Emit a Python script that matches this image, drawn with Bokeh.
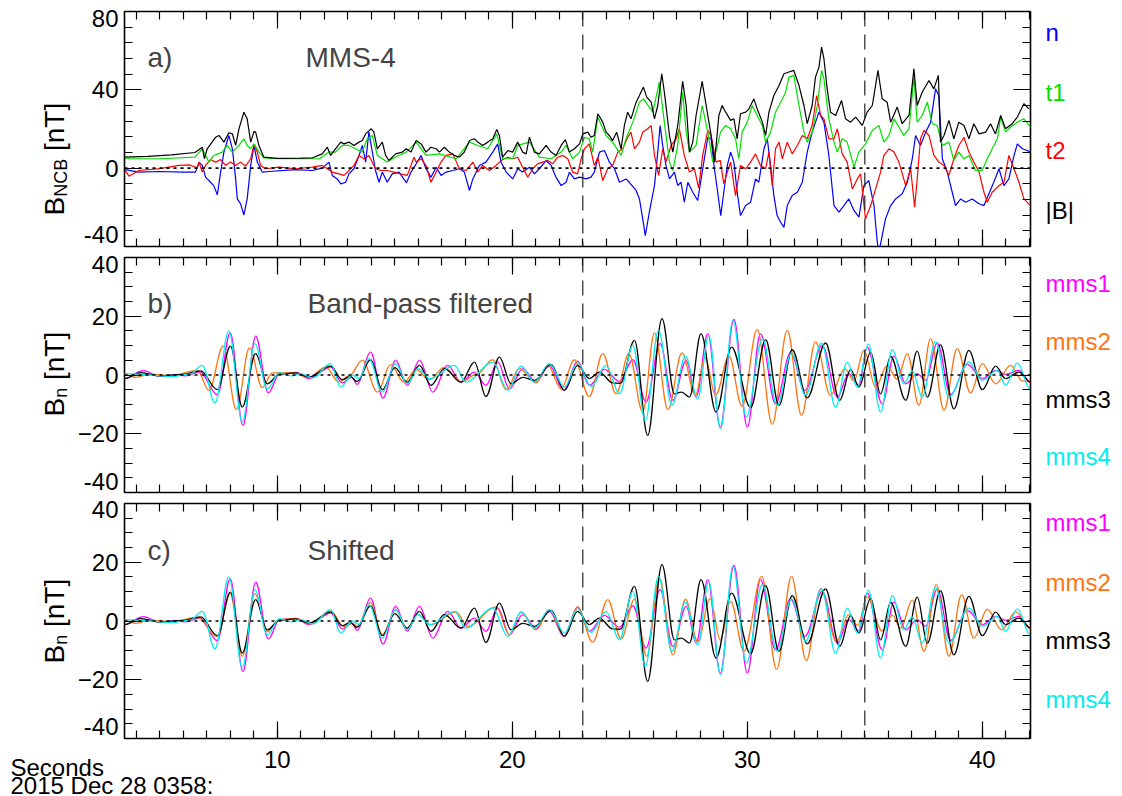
import numpy as np
from bokeh.plotting import figure
from bokeh.layouts import column
from bokeh.models import (Range1d, FixedTicker, LinearAxis, Span, Label,
                          ColumnDataSource, GridBox)
from bokeh.embed import file_html
from bokeh.resources import INLINE

FONT = "Liberation Sans"

# ---------------- Panel a: MMS-4 field in NCB coordinates (nT) ----------------
t_n = [3.52, 4.11, 5.0, 6.0, 6.52, 6.67, 6.81, 6.95, 7.16, 7.30, 7.45, 7.59, 7.73, 7.94, 8.09, 8.23, 8.30, 8.44,
       8.58, 8.72, 8.87, 9.01, 9.15, 9.36, 9.65, 10.78, 11.49, 11.91, 12.20, 12.34, 12.55, 12.70, 12.91, 13.05,
       13.26, 13.48, 13.62, 13.76, 13.90, 14.18, 14.33, 14.47, 14.68, 14.89, 15.18, 15.50, 15.69, 15.91, 16.12,
       16.33, 16.54, 16.76, 16.97, 17.18, 17.47, 17.75, 17.96, 18.18, 18.32, 18.60, 18.88, 19.17, 19.38, 19.52,
       19.74, 20.02, 20.23, 20.44, 20.73, 20.94, 21.15, 21.44, 21.65, 21.86, 22.08, 22.29, 22.43, 22.64, 22.86,
       23.14, 23.35, 23.49, 23.71, 23.92, 24.13, 24.35, 24.56, 24.84, 24.98, 25.27, 25.41, 25.55, 25.66, 25.83,
       26.05, 26.19, 26.29, 26.40, 26.54, 26.69, 26.90, 27.04, 27.18, 27.32, 27.47, 27.68, 27.89, 28.08, 28.32,
       28.46, 28.60, 28.74, 28.87, 29.0, 29.15, 29.29, 29.43, 29.57, 29.71, 29.93, 30.14, 30.35, 30.49, 30.71,
       30.85, 30.99, 31.13, 31.27, 31.42, 31.56, 31.70, 31.91, 32.13, 32.34, 32.55, 32.76, 33.05, 33.26, 33.47,
       33.69, 33.90, 34.11, 34.32, 34.54, 34.75, 34.96, 35.17, 35.39, 35.53, 35.60, 35.74, 35.88, 36.10, 36.31,
       36.59, 36.81, 37.02, 37.16, 37.37, 37.59, 37.80, 38.01, 38.15, 38.30, 38.51, 38.72, 38.86, 39.08, 39.29,
       39.57, 39.86, 40.07, 40.28, 40.49, 40.71, 40.92, 41.13, 41.35, 41.49, 41.70, 41.91, 42.05]
B_n = [-0.7, -2.0, -1.7, -2.0, -2.0, 3.1, 1.4, -4.6, -7.2, -8.9, -13.6, -2.0, 8.2, 16.7, 9.9, -5.5, -15.7, -18.2,
       -23.9, -15.7, 1.4, 11.6, 3.1, -2.0, -1.7, -0.7, -1.2, 0.0, 3.1, -3.7, -5.5, -8.0, -7.2, -2.9,
       -0.3, 6.5, 11.6, 3.1, 18.4, -1.2, -7.2, -2.0, -7.2, -2.9, -2.0, -7.5, -2.0, 2.2, 6.5,
       -0.3, -4.6, 0.5, -3.7, -2.0, -1.2, -0.3, -2.0, -11.4, -5.5, 1.4, 3.1, 8.2, 12.4, 3.1,
       -2.0, -5.5, -0.3, -2.0, 0.5, -2.9, -0.3, 3.9, 1.4, -4.6, -8.9, -7.2, -2.0, -5.5, -4.6,
       -5.5, -4.6, -2.0, 8.2, 9.0, 3.1, -0.3, -7.2, -5.5, -7.2, -11.4, -15.7, -25.9, -34.4, -22.5,
       -8.9, 8.2, 21.8, 11.6, 1.4, -5.5, -2.0, -8.9, -7.2, -17.4, -7.2, -12.3, -16.5, -2.0, 15.8,
       15.0, -0.3, -12.3, -24.2, -12.3, 1.4, 8.2, 3.1, -12.3, -24.2, -19.1, -17.4, -5.5, -7.2, 9.9,
       15.0, 1.4, -14.0, -24.2, -27.6, -30.2, -19.1, -14.0, -12.3, -7.2, 8.2, 18.4, 28.6, 23.5, 6.5,
       -19.1, -22.5, -19.1, -15.7, -21.6, -25.0, -8.9, -6.3, -19.1, -37.8, -43.0, -34.4, -25.9, -19.1, -15.7,
       -13.1, -7.2, 4.8, 16.7, 11.6, 18.4, 23.5, 40.5, 37.1, 4.8, -2.0, -12.3, -19.1, -15.7, -17.4,
       -15.7, -18.2, -19.1, -13.1, -7.2, -0.3, -8.9, -5.5, 6.5, 12.4, 9.9, 9.0, 8.2]

t_t1 = [3.52, 5.0, 6.5, 6.81, 7.09, 7.30, 7.66, 7.87, 8.09, 8.37, 8.58, 8.72, 8.87, 9.01, 9.22, 9.43, 10.0, 11.0,
        11.8, 12.20, 12.48, 12.77, 13.05, 13.33, 13.62, 13.83, 14.04, 14.26, 14.47, 14.68, 14.89, 15.18, 15.48,
        15.91, 16.33, 16.90, 17.61, 18.18, 18.53, 18.96, 19.34, 19.59, 20.02, 20.23, 20.73, 21.15, 21.65, 22.08,
        22.29, 22.57, 22.86, 23.07, 23.28, 23.42, 23.64, 23.99, 24.27, 24.63, 24.84, 25.13, 25.41, 25.58, 25.98,
        26.26, 26.47, 26.69, 26.83, 27.04, 27.25, 27.40, 27.54, 27.82, 28.08, 28.32, 28.53, 28.70, 28.86, 29.08,
        29.29, 29.50, 29.64, 29.78, 30.0, 30.21, 30.42, 30.64, 30.78, 30.99, 31.20, 31.42, 31.63, 31.77, 31.98,
        32.20, 32.41, 32.55, 32.76, 32.98, 33.16, 33.26, 33.47, 33.69, 33.83, 34.04, 34.25, 34.54, 34.75, 35.03,
        35.32, 35.60, 35.81, 36.03, 36.24, 36.45, 36.66, 36.88, 37.09, 37.23, 37.44, 37.66, 37.87, 38.08, 38.30,
        38.58, 38.79, 39.0, 39.22, 39.43, 39.71, 39.99, 40.21, 40.42, 40.64, 40.78, 40.99, 41.20, 41.49, 41.77,
        42.05]
B_t1 = [4.8, 4.8, 5.6, 9.9, 3.1, 6.5, 8.2, 11.6, 8.2, 11.6, 15.0, 11.6, 9.9, 12.4, 8.2, 5.3, 4.8, 4.8,
        4.8, 8.2, 8.2, 11.6, 11.6, 9.9, 8.2, 15.0, 16.7, 6.5, 4.8, 3.1, 4.8, 6.5, 8.2,
        13.3, 6.5, 7.3, 4.8, 13.3, 11.6, 9.9, 17.5, 4.8, 4.8, 11.6, 13.3, 5.6, 4.8, 8.2,
        11.6, 4.8, 8.2, 15.8, 15.0, 8.2, 26.1, 16.7, 13.3, 6.5, 15.0, 23.5, 33.7, 35.4, 28.6,
        44.0, 23.5, 3.1, -1.2, 11.6, 38.8, 18.4, 8.2, 11.6, 32.0, 18.4, 3.1, 10.0, 18.4, 21.8,
        20.1, 15.0, 4.8, 18.4, 23.5, 32.0, 26.9, 21.8, 13.3, 18.4, 28.6, 33.7, 38.8, 46.5, 47.4,
        32.0, 18.4, 13.3, 18.4, 32.0, 49.9, 45.7, 25.2, 13.3, 8.2, 15.0, 13.3, 0.5, 8.2, 12.4,
        19.3, 21.8, 13.3, 16.7, 25.2, 21.0, 16.7, 20.1, 46.5, 23.5, 26.9, 33.7, 22.7, 21.8, 11.6,
        13.3, 3.9, 8.2, 4.8, 6.5, -1.2, -1.2, 4.8, 9.9, 15.0, 26.1, 18.4, 21.0, 23.5, 25.2,
        21.0]

t_t2 = [3.52, 3.69, 4.11, 5.0, 5.82, 6.25, 6.6, 6.67, 6.81, 6.95, 7.16, 7.38, 7.59, 7.80, 8.01, 8.23, 8.44, 8.65,
        8.87, 9.01, 9.15, 9.29, 9.5, 10.07, 10.78, 11.49, 11.91, 12.13, 12.34, 12.62, 12.84, 13.05, 13.26, 13.48,
        13.69, 13.90, 14.18, 14.40, 14.68, 14.96, 15.25, 15.53, 15.82, 15.91, 16.12, 16.33, 16.54, 16.76, 16.97,
        17.18, 17.47, 17.75, 18.03, 18.32, 18.53, 18.74, 19.03, 19.31, 19.59, 19.81, 20.02, 20.23, 20.44, 20.66,
        20.87, 21.08, 21.30, 21.51, 21.72, 21.93, 22.15, 22.36, 22.57, 22.78, 22.93, 23.07, 23.28, 23.49, 23.64,
        23.85, 24.06, 24.27, 24.49, 24.70, 24.91, 25.05, 25.20, 25.41, 25.55, 25.76, 25.91, 26.05, 26.23, 26.40,
        26.54, 26.76, 26.97, 27.11, 27.32, 27.54, 27.75, 27.93, 28.10, 28.32, 28.46, 28.67, 28.85, 29.0, 29.15,
        29.29, 29.50, 29.71, 29.93, 30.14, 30.35, 30.56, 30.78, 30.92, 31.06, 31.20, 31.35, 31.49, 31.70, 31.91,
        32.13, 32.34, 32.55, 32.76, 32.95, 33.12, 33.26, 33.47, 33.69, 33.83, 34.04, 34.25, 34.47, 34.68, 34.82,
        35.03, 35.25, 35.46, 35.67, 35.81, 36.03, 36.24, 36.45, 36.74, 36.95, 37.12, 37.23, 37.37, 37.52, 37.73,
        37.94, 38.15, 38.37, 38.58, 38.79, 39.0, 39.22, 39.43, 39.64, 39.86, 40.07, 40.21, 40.42, 40.71, 40.92,
        41.13, 41.35, 41.56, 41.77, 42.05]
B_t2 = [-1.0, -4.1, -1.2, -0.2, 1.4, 1.7, 0.2, 3.1, -2.0, 1.4, 4.4, 3.1, 4.4, 1.4, 3.1, 1.4, 3.1, 1.0,
        4.8, 11.9, 8.2, 1.4, -0.3, 0.5, -0.3, 0.5, 1.4, -0.3, -2.0, -2.9, -3.7, -1.2, 1.4, 6.5,
        4.8, 6.5, -0.3, -1.2, -1.2, -2.0, -2.9, -3.7, 5.6, 3.1, 4.8, 1.4, -7.2, -2.0, 3.1,
        6.5, 7.3, -0.3, -1.2, 3.1, -2.0, 1.4, -1.2, 1.4, 4.4, 5.6, 4.8, 5.6, 0.5, -4.6,
        -0.3, 2.2, 3.1, 3.9, 2.2, 5.6, 6.5, 4.8, -2.0, -2.9, 4.8, 9.9, 12.4, 1.4, 5.6,
        -6.3, -0.3, 1.4, 8.2, 9.9, 15.8, 18.4, 9.9, 13.3, 18.4, 20.1, 21.8, 6.5, -3.7, 9.9,
        3.1, 11.6, 15.0, 20.1, 6.5, -2.0, -0.3, -10.2, 6.5, 19.3, 16.7, 3.1, 4.0, -8.0, -2.0,
        3.1, -14.0, 1.4, -0.3, 3.1, 7.3, 1.4, -0.3, 8.2, -8.9, 9.9, 13.3, 4.8, 13.3, 7.3,
        11.6, 16.7, 15.0, 21.8, 37.1, 26.9, 25.2, 15.0, 15.0, 20.1, 7.3, 3.1, -10.6, -5.5, -2.9,
        -25.9, -19.1, -10.6, -2.0, 6.5, 9.9, 8.2, 3.1, -8.9, -0.3, -19.9, -5.5, 15.0, 19.3, 16.7,
        6.5, 3.1, 1.4, -3.7, 4.8, 11.6, 15.8, 8.2, 3.1, -2.0, -12.3, -17.4, -12.3, -8.9, -7.2,
        6.5, -0.3, -7.2, -15.7, -19.1]

t_B = [3.52, 4.5, 5.5, 6.5, 6.81, 6.9, 7.02, 7.38, 7.52, 7.73, 7.94, 8.09, 8.23, 8.37, 8.58, 8.72, 8.87, 9.01,
       9.08, 9.22, 9.43, 10.0, 11.0, 11.5, 11.91, 12.13, 12.27, 12.48, 12.70, 12.84, 13.05, 13.26, 13.48, 13.62,
       13.76, 14.0, 14.11, 14.26, 14.47, 14.61, 14.75, 15.04, 15.32, 15.48, 15.69, 15.91, 16.12, 16.33, 16.54,
       16.76, 16.90, 17.11, 17.32, 17.54, 17.75, 17.96, 18.18, 18.39, 18.53, 18.74, 18.96, 19.17, 19.34, 19.45,
       19.59, 19.81, 20.02, 20.23, 20.44, 20.59, 20.73, 20.94, 21.15, 21.44, 21.65, 21.86, 22.08, 22.26, 22.43,
       22.64, 22.86, 23.0, 23.21, 23.35, 23.49, 23.64, 23.85, 23.99, 24.13, 24.27, 24.44, 24.63, 24.77, 24.91,
       25.05, 25.27, 25.41, 25.58, 25.72, 25.91, 26.05, 26.19, 26.36, 26.47, 26.69, 26.83, 27.04, 27.25, 27.40,
       27.54, 27.68, 27.82, 28.08, 28.25, 28.46, 28.60, 28.70, 28.79, 28.93, 29.08, 29.29, 29.43, 29.57, 29.71,
       29.93, 30.07, 30.28, 30.42, 30.64, 30.78, 30.92, 31.13, 31.35, 31.56, 31.77, 31.98, 32.20, 32.41, 32.55,
       32.76, 32.90, 33.05, 33.16, 33.26, 33.40, 33.54, 33.76, 34.01, 34.18, 34.39, 34.61, 34.89, 35.10, 35.32,
       35.56, 35.74, 35.95, 36.10, 36.38, 36.59, 36.88, 37.09, 37.23, 37.44, 37.73, 37.94, 38.13, 38.22, 38.37,
       38.58, 38.79, 39.0, 39.22, 39.43, 39.64, 39.86, 40.14, 40.35, 40.56, 40.78, 40.99, 41.27, 41.49, 41.77,
       41.98]
B_tot = [5.6, 6.0, 6.8, 8.0, 10.7, 4.8, 9.9, 15.8, 16.7, 13.3, 18.1, 17.5, 11.6, 20.1, 28.6, 25.2, 13.3, 18.8,
         18.4, 11.6, 5.6, 5.0, 5.1, 5.3, 7.3, 10.7, 6.5, 9.9, 13.3, 12.4, 13.3, 11.6, 13.3, 14.1,
         17.5, 20.1, 18.4, 9.9, 13.3, 6.5, 3.9, 7.3, 8.2, 9.9, 8.2, 14.1, 12.4, 8.2, 10.7,
         9.9, 8.2, 10.7, 8.2, 6.5, 5.6, 8.2, 14.1, 15.0, 13.3, 11.6, 13.3, 15.0, 19.8, 16.7,
         5.6, 9.0, 8.2, 13.3, 8.2, 7.3, 15.8, 8.2, 7.3, 11.6, 8.2, 6.5, 11.6, 14.6, 8.2,
         9.9, 12.4, 17.5, 18.4, 15.8, 16.7, 27.8, 23.5, 18.4, 16.7, 14.1, 18.4, 9.9, 21.8, 28.6,
         25.2, 33.7, 37.1, 41.4, 36.3, 33.7, 25.2, 32.0, 48.2, 38.8, 16.7, 8.2, 21.8, 44.3, 32.0,
         8.2, 13.3, 26.9, 44.3, 32.0, 16.7, 3.0, 15.0, 26.9, 32.0, 28.6, 24.4, 25.2, 15.0, 27.8,
         28.6, 30.3, 35.4, 30.3, 23.5, 16.7, 28.6, 37.1, 42.2, 48.2, 49.1, 49.9, 42.2, 32.0, 22.7,
         32.0, 46.5, 51.6, 61.8, 55.9, 40.5, 28.6, 26.9, 34.6, 25.2, 23.5, 26.1, 21.8, 28.6, 32.0,
         49.9, 35.4, 33.7, 23.5, 31.2, 22.7, 26.9, 50.8, 32.0, 38.8, 44.8, 40.5, 47.4, 13.3, 16.7,
         24.4, 15.0, 23.5, 21.8, 15.0, 22.7, 17.5, 18.4, 22.7, 17.5, 26.9, 20.1, 22.7, 26.1, 32.9,
         30.3]

# ---------------- Panels b/c: band-pass filtered Bn, turning points (nT) ----------------
t_mms1 = [3.5, 4.3, 5.0, 5.6, 6.1, 6.7, 7.45, 8.0, 8.54, 9.08, 9.62, 10.1, 10.8, 11.35, 12.27, 12.77, 13.16,
          13.4, 13.97, 14.5, 15.04, 15.53, 16.05, 16.62, 17.25, 17.82, 18.39, 18.88, 19.38, 19.88, 20.44, 21.01,
          21.58, 22.19, 22.78, 23.28, 23.92, 24.56, 25.13, 25.69, 26.29, 26.83, 27.4, 27.82, 28.32, 28.85, 29.43,
          30.0, 30.56, 31.2, 31.84, 32.45, 33.19, 33.83, 34.32, 34.75, 35.1, 35.74, 36.24, 36.74, 37.23, 37.59,
          38.08, 38.65, 39.36, 40.0, 40.57, 40.99, 41.56, 42.05]
bn_mms1 = [-1.2, 1.5, -0.5, 0.0, -0.3, 1.1, -6.7, 14.3, -17.2, 13.2, -6.1, 0.5, 0.9, -1.2, 2.7, -2.7, -0.7,
           -3.2, 7.8, -7.8, 5.0, -3.5, 5.0, -5.8, 3.3, -2.4, 1.0, -3.5, 4.4, -4.7, 2.2, -2.4,
           3.3, -5.2, 4.7, -3.5, 1.9, -2.2, 5.2, -9.2, 10.7, -8.6, 5.0, -7.5, 14.1, -17.7, 18.9,
           -17.7, 14.1, -9.8, 7.5, -5.2, 10.1, -7.5, 0.5, -3.5, 9.5, -9.8, 6.4, -3.0, 0.5, -1.8,
           10.9, -6.6, 3.6, -1.2, 1.6, 0.2, 1.6, -2.4]

t_mms2 = [3.5, 4.0, 4.6, 5.5, 6.6, 7.09, 7.70, 8.26, 8.82, 9.36, 9.79, 10.7, 11.3, 12.06, 12.62, 13.05, 13.62,
          14.26, 14.82, 15.39, 15.91, 16.47, 17.11, 17.82, 18.5, 19.17, 19.74, 20.3, 21.01, 21.51, 22.08, 22.64,
          23.28, 23.85, 24.42, 24.96, 25.55, 26.05, 26.62, 27.22, 27.79, 28.2, 28.65, 29.22, 29.78, 30.42, 31.06,
          31.7, 32.31, 32.9, 33.54, 34.15, 34.54, 34.96, 35.46, 35.95, 36.38, 36.81, 37.3, 37.8, 38.37, 38.93,
          39.5, 40.0, 40.57, 41.2, 41.7, 42.05]
bn_mms2 = [0.2, -0.8, 0.3, -0.2, 1.6, -5.2, 9.8, -11.8, 9.3, -4.3, 0.7, 0.8, -1.0, 2.7, -2.4, -0.3, 5.0,
           -5.8, 3.5, -2.4, 1.8, -1.6, 2.7, -2.4, 0.3, 5.2, -5.0, 2.2, -2.7, 3.3, -4.7, 5.2,
           -7.3, 7.3, -6.4, 7.3, -12.6, 14.3, -11.8, 7.5, -6.9, 6.0, -6.9, 6.4, -10.7, 15.5, -16.8,
           15.2, -13.8, 11.3, -6.9, 2.2, -2.0, 8.4, -4.1, 3.3, -1.5, 7.3, -10.3, 12.4, -12.0, 9.0,
           -6.1, 3.9, -3.0, 3.3, -2.0, -2.4]

t_mms3 = [3.5, 4.2, 5.0, 6.0, 6.74, 7.45, 8.01, 8.51, 9.08, 9.57, 10.1, 10.78, 11.35, 12.27, 12.77, 13.1, 13.4,
          13.97, 14.47, 15.0, 15.53, 16.05, 16.54, 17.11, 17.82, 18.39, 18.88, 19.45, 19.95, 20.45, 20.95, 21.65,
          22.22, 22.78, 23.28, 23.71, 24.27, 24.6, 25.2, 25.76, 26.37, 26.9, 27.2, 27.54, 28.03, 28.67, 29.33,
          30.14, 30.78, 31.35, 31.91, 32.55, 33.33, 33.93, 34.4, 34.75, 35.25, 35.67, 36.1, 36.74, 37.23, 37.66,
          38.22, 38.79, 39.43, 40.0, 40.57, 40.99, 41.56, 42.05]
bn_mms3 = [-1.2, 0.8, -0.3, 0.2, 1.4, -5.0, 9.8, -10.9, 7.3, -3.0, 0.3, 0.7, -0.7, 3.0, -1.6, -0.5, -2.2,
           5.2, -5.0, 2.5, -2.4, 3.3, -3.5, 2.2, -2.4, 4.4, -7.3, 6.1, -3.0, -0.8, -1.8, 3.6,
           -5.2, 3.3, -1.2, 1.0, -2.7, -2.8, 11.8, -20.6, 19.2, -6.4, -5.8, -7.5, 14.1, -12.6, 9.5,
           -11.1, 12.0, -10.3, 8.6, -7.8, 10.9, -8.6, 1.8, -4.1, 7.7, -6.4, 6.3, -8.6, 8.1, -7.5,
           10.3, -11.5, 8.4, -5.0, 3.0, -1.2, 1.0, -2.4]

t_mms4 = [3.5, 4.5, 5.5, 6.3, 6.81, 7.35, 7.94, 8.51, 9.05, 9.57, 10.1, 10.6, 11.0, 11.5, 12.27, 12.70, 13.19,
          13.48, 13.9, 14.47, 15.04, 15.53, 15.98, 16.5, 17.54, 18.03, 19.17, 19.81, 20.37, 20.94, 21.58, 22.22,
          22.78, 23.35, 23.99, 24.56, 25.13, 25.66, 26.22, 26.79, 27.37, 27.89, 28.36, 28.86, 29.39, 29.96, 30.64,
          31.27, 31.88, 32.48, 33.16, 33.76, 34.25, 34.68, 35.15, 35.67, 36.17, 36.66, 37.02, 37.44, 38.01, 38.58,
          39.43, 40.0, 40.64, 40.99, 41.49, 42.05]
bn_mms4 = [0.5, 0.0, -0.5, 0.3, 3.3, -9.5, 15.0, -16.0, 10.7, -4.7, 0.8, -0.3, 0.5, -1.0, 3.9, -4.1, 0.0,
           -1.2, 5.6, -5.8, 3.9, -3.0, 2.2, -1.2, 3.3, -2.4, 4.4, -5.2, 3.0, -2.4, 3.9, -4.1,
           4.1, -3.9, 3.3, -6.4, 10.1, -15.5, 15.2, -10.3, 6.4, -8.1, 13.5, -18.3, 18.6, -14.3, 12.4,
           -10.3, 7.5, -6.9, 10.9, -10.9, 4.4, -4.1, 10.5, -12.6, 8.6, -3.0, 1.4, -7.5, 11.3, -7.5,
           4.4, -1.8, 1.6, -3.5, 4.1, -5.0]

# mms2 after time shift (panel c); mms1, mms3, mms4 coincide with panel b
t_mms2_shift = [3.5, 4.0, 4.6, 5.5, 6.6, 7.45, 7.99, 8.51, 9.05, 9.57, 10.1, 10.8, 11.4, 12.27, 12.84, 13.2, 13.4,
                13.97, 14.47, 15.04, 15.53, 15.98, 16.54, 17.61, 18.1, 19.31, 19.88, 20.37, 21.01, 21.58, 22.22,
                22.78, 23.42, 24.06, 24.63, 25.2, 25.72, 26.26, 26.83, 27.37, 27.89, 28.42, 28.85, 29.29, 29.86,
                30.61, 31.25, 31.88, 32.51, 33.12, 33.79, 34.32, 34.7, 35.1, 35.74, 36.17, 36.52, 37.02, 37.52,
                38.04, 38.58, 39.12, 39.64, 40.21, 40.82, 41.42, 42.05]
bn_mms2_shift = [0.2, -0.8, 0.3, -0.2, 1.2, -5.3, 9.3, -12.0, 9.3, -3.6, 0.5, 0.9, -1.0, 3.4, -1.9, -0.8, -1.8,
                 6.3, -4.7, 3.7, -2.5, 2.2, -1.3, 3.1, -1.9, 4.8, -4.7, 3.1, -3.0, 3.7, -5.2,
                 4.8, -7.2, 7.3, -6.1, 7.4, -12.0, 14.6, -11.5, 7.4, -7.0, 7.6, -6.5, 6.7, -10.3,
                 15.2, -16.5, 15.2, -13.5, 11.0, -7.0, 2.2, -1.5, 8.2, -3.4, 2.0, -2.5, 7.1, -10.3,
                 12.4, -12.0, 9.0, -5.8, 4.0, -3.0, 3.1, -2.5]

x_major_ticks = [10, 20, 30, 40]
event_times = [23, 35]

C_N, C_T1, C_T2, C_B = "#0000ff", "#00e000", "#ff0000", "#000000"
C_M1, C_M2, C_M3, C_M4 = "#ff00ff", "#ff7410", "#000000", "#00eeee"

LEFT, RIGHT, FW, FH = 124, 92, 906, 235
TOTAL_W, TOTAL_H = 1122, 796


def style_axis(ax, ticker, labels):
    ax.ticker = ticker
    ax.axis_line_color = None
    ax.major_tick_in, ax.major_tick_out = 17, 0
    ax.minor_tick_in, ax.minor_tick_out = 8, 0
    ax.major_tick_line_color = "black"
    ax.minor_tick_line_color = "black"
    ax.major_tick_line_width = 1.2
    ax.minor_tick_line_width = 1.2
    ax.major_label_text_font = FONT
    if labels:
        ax.major_label_text_font_size = "24px"
        ax.major_label_text_color = "black"
    else:
        ax.major_label_text_font_size = "1px"
        ax.major_label_text_color = None
        ax.major_label_standoff = 0


def make_panel(yr, ymaj, ymin, top, bottom, xlabels):
    p = figure(frame_width=FW, frame_height=FH, x_range=Range1d(3.5, 42.05), y_range=Range1d(*yr),
               output_backend="svg", toolbar_location=None, min_border_left=LEFT, min_border_right=RIGHT,
               min_border_top=top, min_border_bottom=bottom, background_fill_color="white",
               border_fill_color="white", outline_line_color="black", outline_line_width=1.6)
    p.grid.visible = False
    style_axis(p.xaxis[0], FixedTicker(ticks=x_major_ticks, minor_ticks=list(range(4, 43))), xlabels)
    if xlabels:
        p.xaxis[0].major_label_standoff = 12
    # inner tick values labelled by the axis; the end values are placed in the overlay
    style_axis(p.yaxis[0], FixedTicker(ticks=ymaj[1:-1], minor_ticks=ymin), True)
    p.yaxis[0].major_label_standoff = 6
    ax_top = LinearAxis()
    style_axis(ax_top, FixedTicker(ticks=x_major_ticks, minor_ticks=list(range(4, 43))), False)
    p.add_layout(ax_top, "above")
    ax_r = LinearAxis()
    style_axis(ax_r, FixedTicker(ticks=ymaj, minor_ticks=ymin), False)
    p.add_layout(ax_r, "right")
    p.add_layout(Span(location=0, dimension="width", line_color="black", line_dash="3 4", line_width=1.6))
    for et in event_times:
        p.add_layout(Span(location=et, dimension="height", line_color="#222222", line_dash="15 8",
                          line_width=1.2))
    return p


def smooth(p, t, v, color):
    t = np.asarray(t, float)
    v = np.asarray(v, float)
    d = np.diff(t)
    src = ColumnDataSource(dict(x0=t[:-1], y0=v[:-1], x1=t[1:], y1=v[1:],
                                cx0=t[:-1] + 0.36 * d, cy0=v[:-1], cx1=t[1:] - 0.36 * d, cy1=v[1:]))
    p.bezier(x0="x0", y0="y0", x1="x1", y1="y1", cx0="cx0", cy0="cy0", cx1="cx1", cy1="cy1",
             source=src, line_color=color, line_width=1.3)


def inframe(p, s, x, y, size):
    p.add_layout(Label(x=x, y=y, x_units="screen", y_units="screen", text=s, text_font=FONT,
                       text_font_size=size, text_baseline="alphabetic", text_align="left"))


# ---------------- panel a ----------------
pa = make_panel((-40, 80), [-40, 0, 40, 80], list(range(-40, 81, 8)), 11, 5, False)
pa.line(t_n, B_n, line_color=C_N, line_width=1.2)
pa.line(t_t2, B_t2, line_color=C_T2, line_width=1.2)
pa.line(t_t1, B_t1, line_color=C_T1, line_width=1.2)
pa.line(t_B, B_tot, line_color=C_B, line_width=1.2)
inframe(pa, "a)", 23, FH - 46, "28px")
inframe(pa, "MMS-4", 181, FH - 46, "28px")

# ---------------- panel b ----------------
pb = make_panel((-40, 40), [-40, -20, 0, 20, 40], list(range(-40, 41, 5)), 6, 5, False)
smooth(pb, t_mms1, bn_mms1, C_M1)
smooth(pb, t_mms2, bn_mms2, C_M2)
smooth(pb, t_mms3, bn_mms3, C_M3)
smooth(pb, t_mms4, bn_mms4, C_M4)
inframe(pb, "b)", 23, FH - 46, "28px")
inframe(pb, "Band-pass filtered", 183, FH - 46, "28px")

# ---------------- panel c ----------------
pc = make_panel((-40, 40), [-40, -20, 0, 20, 40], list(range(-40, 41, 5)), 6, 58, True)
smooth(pc, t_mms1, bn_mms1, C_M1)
smooth(pc, t_mms2_shift, bn_mms2_shift, C_M2)
smooth(pc, t_mms3, bn_mms3, C_M3)
smooth(pc, t_mms4, bn_mms4, C_M4)
inframe(pc, "c)", 23, FH - 47, "28px")
inframe(pc, "Shifted", 183, FH - 47, "28px")

main = column(pa, pb, pc, spacing=0)

# ---------------- transparent overlay carrying the texts outside the frames ----------------
ov = figure(width=TOTAL_W, height=TOTAL_H, x_range=Range1d(0, TOTAL_W), y_range=Range1d(0, TOTAL_H),
            min_border=0, toolbar_location=None, output_backend="svg", x_axis_type=None, y_axis_type=None,
            outline_line_color=None, background_fill_alpha=0, border_fill_alpha=0)


def otext(s, x, ytop, size, color="black", align="left", baseline="alphabetic", angle=0):
    ov.add_layout(Label(x=x, y=TOTAL_H - ytop, text=s, text_font=FONT, text_font_size=size, text_color=color,
                        text_align=align, text_baseline=baseline, angle=angle, angle_units="deg"))


# end labels of each y axis
for s, yc in [("80", 17.5), ("-40", 234), ("40", 264), ("-40", 481), ("40", 509), ("-40", 726)]:
    otext(s, 118, yc, "24px", align="right", baseline="middle")

# rotated y-axis titles with subscripts
W = {"B": .667, "N": .722, "C": .722, "n": .556, " ": .278, "[": .278, "]": .278, "T": .611}


def ytitle(sub, ybottom, xbase=54, fs=28, ss=18):
    y = ybottom
    for s, f, dx, gap in [("B", fs, 0, 0), (sub, ss, 6, 0), ("[nT]", fs, 0, 0.278 * fs)]:
        y -= gap
        otext(s, xbase + dx, y, f"{f}px", angle=90)
        y -= sum(W[c] for c in s) * f


ytitle("NCB", 215)
ytitle("n", 416)
ytitle("n", 663)

# colour keys on the right
for s, c, yc in [("n", C_N, 32), ("t1", C_T1, 92), ("t2", C_T2, 150), ("|B|", C_B, 210),
                 ("mms1", C_M1, 283), ("mms2", C_M2, 341), ("mms3", C_M3, 399), ("mms4", C_M4, 456),
                 ("mms1", C_M1, 522), ("mms2", C_M2, 582), ("mms3", C_M3, 640), ("mms4", C_M4, 699)]:
    otext(s, 1045, yc, "24px", c, baseline="middle")

otext("Seconds", 10, 767, "24px")
otext("2015 Dec 28 0358:", 10, 785, "24px")

grid = GridBox(children=[(main, 0, 0), (ov, 0, 0)])
open("out.html", "w").write(file_html(grid, INLINE))
